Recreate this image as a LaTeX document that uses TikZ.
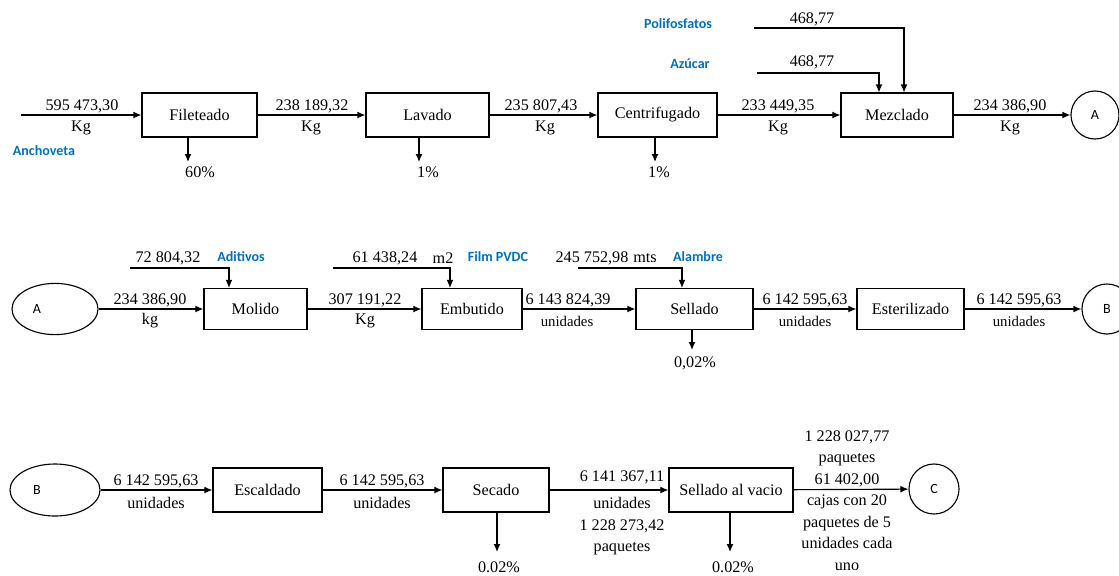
\documentclass[tikz,border=0pt]{standalone}
\usepackage{fontspec}
\setmainfont{Liberation Serif}
\newfontfamily\calibri{Carlito}
\usetikzlibrary{arrows.meta,shapes.geometric}
\definecolor{azul}{RGB}{0,112,192}

\tikzset{
  proceso/.style={draw, line width=0.8pt, minimum height=1.1cm, inner sep=0pt,
    font=\fontsize{11.5}{13}\selectfont},
  conector/.style={draw, circle, line width=0.8pt, minimum size=1.2cm, inner sep=0pt,
    font=\calibri\fontsize{10}{12}\selectfont},
  salto/.style={draw, ellipse, line width=0.8pt, minimum width=2.15cm, minimum height=1.28cm,
    inner sep=0pt, font=\calibri\fontsize{10}{12}\selectfont},
  flujo/.style={-{Latex[length=2mm,width=1.7mm]}, line width=0.8pt},
  dato/.style={inner sep=0pt, font=\fontsize{11.5}{15.3}\selectfont},
  unid/.style={inner sep=0pt, font=\fontsize{10.5}{12}\selectfont},
  insumo/.style={inner sep=0pt, text=azul, font=\calibri\bfseries\fontsize{10}{12}\selectfont},
}

\begin{document}
\begin{tikzpicture}[x=0.025cm, y=-0.025cm]
  \useasboundingbox (0,0) rectangle (1119,575);

  % Row 1: Fileteado -> Mezclado
  \coordinate (entrada) at (21,115);
  \node[proceso, minimum width=2.875cm] (fileteado) at (199.5,115) {Fileteado};
  \node[proceso, minimum width=3.075cm] (lavado) at (427.5,115) {Lavado};
  \node[proceso, minimum width=2.975cm] (centrifugado) at (657.5,115) {Centrifugado};
  \node[proceso, minimum width=2.8cm] (mezclado) at (897,115) {Mezclado};
  \node[conector] (A1) at (1095,115) {A};

  \draw[flujo] (entrada) -- (fileteado);
  \draw[flujo] (fileteado) -- (lavado);
  \draw[flujo] (lavado) -- (centrifugado);
  \draw[flujo] (centrifugado) -- (mezclado);
  \draw[flujo] (mezclado) -- (A1);

  \node[dato] at (82,106) {595 473,30};
  \node[dato] at (81,128) {Kg};
  \node[insumo] (anchoveta) at (44,151) {Anchoveta};
  \node[dato] at (312,106) {238 189,32};
  \node[dato] at (311,128) {Kg};
  \node[dato] at (541,106) {235 807,43};
  \node[dato] at (545,128) {Kg};
  \node[dato] at (778,106) {233 449,35};
  \node[dato] at (778,128) {Kg};
  \node[dato] at (1010,106) {234 386,90};
  \node[dato] at (1010,128) {Kg};

  % mermas fila 1
  \coordinate (m1) at (188,162);
  \draw[flujo] (fileteado.south -| m1) -- (m1);
  \node[dato] (merma1) at (200,172) {60\%};
  \coordinate (m2) at (419,162);
  \draw[flujo] (lavado.south -| m2) -- (m2);
  \node[dato] (merma2) at (428,172) {1\%};
  \coordinate (m3) at (655,162);
  \draw[flujo] (centrifugado.south -| m3) -- (m3);
  \node[dato] (merma3) at (659,172) {1\%};

  % insumos del mezclado
  \coordinate (poli) at (754,28);
  \draw[flujo] (poli) -| ([xshift=0.175cm]mezclado.north);
  \node[insumo] (polifosfatos) at (678,24) {Polifosfatos};
  \node[dato] at (812,19) {468,77};
  \coordinate (azu) at (757,73);
  \draw[flujo] (azu) -| ([xshift=-0.45cm]mezclado.north);
  \node[insumo] (azucar) at (690,64) {Azúcar};
  \node[dato] at (812,62) {468,77};

  % Row 2: Molido -> Esterilizado
  \node[salto] (A2) at (55,309) {A\hspace*{0.9cm}};
  \node[proceso, minimum width=2.575cm, minimum height=1.025cm] (molido) at (255.5,309) {Molido};
  \node[proceso, minimum width=2.5cm, minimum height=1.025cm] (embutido) at (472,309) {Embutido};
  \node[proceso, minimum width=2.925cm, minimum height=1.025cm] (sellado) at (694.5,309) {Sellado};
  \node[proceso, minimum width=2.675cm, minimum height=1.025cm] (esterilizado) at (910.5,309) {Esterilizado};
  \node[conector, minimum size=1.25cm] (B1) at (1107,309) {B};

  \draw[flujo] (A2) -- (molido);
  \draw[flujo] (molido) -- (embutido);
  \draw[flujo] (embutido) -- (sellado);
  \draw[flujo] (sellado) -- (esterilizado);
  \draw[flujo] (esterilizado) -- (B1);

  \node[dato] at (150,300) {234 386,90};
  \node[dato] at (150,321) {kg};
  \node[dato] at (365,300) {307 191,22};
  \node[dato] at (365,321) {Kg};
  \node[dato] at (568,300) {6 143 824,39};
  \node[unid] at (567,321) {unidades};
  \node[dato] at (805,300) {6 142 595,63};
  \node[unid] at (805,321) {unidades};
  \node[dato] at (1019,300) {6 142 595,63};
  \node[unid] at (1019,321) {unidades};

  % insumos fila 2
  \coordinate (adi) at (130,268);
  \draw[flujo] (adi) -| ([xshift=-0.6625cm]molido.north);
  \node[dato] at (168,258) {72 804,32};
  \node[insumo] (aditivos) at (241,257) {Aditivos};
  \coordinate (film) at (333,268);
  \draw[flujo] (film) -| ([xshift=-0.55cm]embutido.north);
  \node[dato] at (385,258) {61 438,24};
  \node[dato] at (443,258) {m2};
  \node[insumo] (pvdc) at (498,257) {Film PVDC};
  \coordinate (ala) at (578,268);
  \draw[flujo] (ala) -| ([xshift=-0.3125cm]sellado.north);
  \node[dato] at (592,258) {245 752,98};
  \node[dato] at (645,258) {mts};
  \node[insumo] (alambre) at (698,257) {Alambre};

  \coordinate (m4) at (692,350);
  \draw[flujo] (sellado.south -| m4) -- (m4);
  \node[dato] (merma4) at (695,363) {0,02\%};

  % Row 3: Escaldado -> Sellado al vacio
  \node[salto, minimum width=2.25cm, minimum height=1.3cm] (B2) at (55,490) {B\hspace*{0.9cm}};
  \node[proceso, minimum width=2.725cm] (escaldado) at (267.5,490) {Escaldado};
  \node[proceso, minimum width=2.65cm] (secado) at (496,490) {Secado};
  \node[proceso, minimum width=3.1cm] (vacio) at (731,490) {Sellado al vacio};
  \node[conector, minimum size=1.25cm] (C) at (934,489) {C};

  \draw[flujo] (B2) -- (escaldado);
  \draw[flujo] (escaldado) -- (secado);
  \draw[flujo] (secado) -- (vacio);
  \draw[flujo] (vacio) -- (C);

  \node[dato] at (156,481) {6 142 595,63};
  \node[dato] at (156,503) {unidades};
  \node[dato] at (382,481) {6 142 595,63};
  \node[dato] at (382,503) {unidades};
  \node[dato] at (622,477) {6 141 367,11};
  \node[dato, align=center, anchor=north] at (622,497) {unidades\\1 228 273,42\\paquetes};
  \node[dato, align=center, anchor=north] at (847,430)
    {1 228 027,77\\paquetes\\61 402,00\\cajas con 20\\paquetes de 5\\unidades cada\\uno};

  \coordinate (m5) at (497,552);
  \draw[flujo] (secado.south -| m5) -- (m5);
  \node[dato] (merma5) at (499,567) {0.02\%};
  \coordinate (m6) at (730,552);
  \draw[flujo] (vacio.south -| m6) -- (m6);
  \node[dato] (merma6) at (733,567) {0.02\%};
\end{tikzpicture}
\end{document}
